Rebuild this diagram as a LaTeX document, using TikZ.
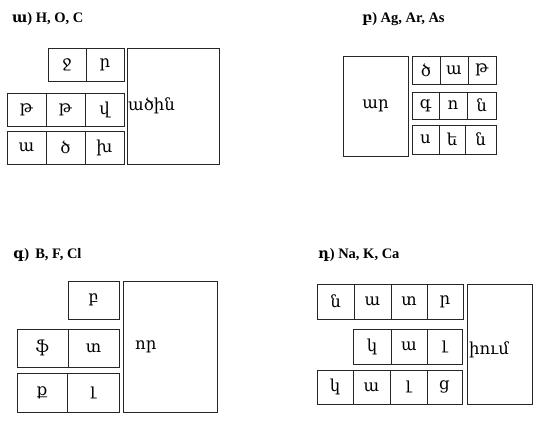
\documentclass[tikz,border=0pt]{standalone}
\usepackage{fontspec}
\setmainfont{Liberation Serif}
\newfontfamily\arm{DejaVu Serif}
\tikzset{
  cellst/.style={draw=black!85, line width=1pt, inner sep=0pt, outer sep=0pt, font=\arm\fontsize{16.5}{16.5}\selectfont},
  bigtext/.style={inner sep=0pt, anchor=west, font=\arm\fontsize{16.5}{16.5}\selectfont},
  head/.style={inner sep=0pt, anchor=base west, font=\bfseries\fontsize{14.5}{15}\selectfont}
}
\newcommand\cbox[6]{\node[cellst, minimum width={(#4-#2)*1pt}, minimum height={(#5-#3)*1pt}] (#1) at ({(#2+#4)/2},{(#3+#5)/2}) {\raisebox{-3pt}{#6}};}
\begin{document}
\begin{tikzpicture}[x=1pt,y=-1pt]
\useasboundingbox (0,0) rectangle (539,421);
% panel a
\node[head] (ha) at (12,22) {{\arm ա}) H, O, C};
\cbox{a11}{48}{48}{86}{81}{ջ}
\cbox{a12}{86}{48}{124}{81}{ր}
\cbox{a21}{7}{93}{46}{126}{թ}
\cbox{a22}{46}{93}{85}{126}{թ}
\cbox{a23}{85}{93}{124}{126}{վ}
\cbox{a31}{7}{131}{46}{164}{ա}
\cbox{a32}{46}{131}{85}{164}{ծ}
\cbox{a33}{85}{131}{124}{164}{խ}
\cbox{abig}{127}{48}{219}{164}{}
\node[bigtext] (atx) at (128,106) {ածին};
% panel b
\node[head] (hb) at (362,22) {{\arm բ}) Ag, Ar, As};
\cbox{bbig}{343}{56}{408}{156}{ար}
\cbox{b11}{412}{56}{440}{84}{ծ}
\cbox{b12}{440}{56}{468}{84}{ա}
\cbox{b13}{468}{56}{496}{84}{թ}
\cbox{b21}{412}{92}{439}{119}{գ}
\cbox{b22}{439}{92}{467}{119}{ո}
\cbox{b23}{467}{92}{496}{119}{ն}
\cbox{b31}{412}{125}{439}{154}{ս}
\cbox{b32}{439}{125}{465}{154}{ե}
\cbox{b33}{465}{125}{496}{154}{ն}
% panel c
\node[head] (hc) at (13,258) {{\arm գ})\, B, F, Cl};
\cbox{c11}{68}{281}{119}{319}{բ}
\cbox{c21}{17}{329}{68}{367}{ֆ}
\cbox{c22}{68}{329}{119}{367}{տ}
\cbox{c31}{17}{373}{67}{412}{ք}
\cbox{c32}{67}{373}{119}{412}{լ}
\cbox{cbig}{123}{281}{217}{412}{}
\node[bigtext] (ctx) at (135,347) {որ};
% panel d
\node[head] (hd) at (318,258) {{\arm դ}) Na, K, Ca};
\cbox{d11}{317}{284}{354}{319}{ն}
\cbox{d12}{354}{284}{391}{319}{ա}
\cbox{d13}{391}{284}{427}{319}{տ}
\cbox{d14}{427}{284}{463}{319}{ր}
\cbox{d21}{353}{329}{391}{364}{կ}
\cbox{d22}{391}{329}{427}{364}{ա}
\cbox{d23}{427}{329}{462}{364}{լ}
\cbox{d31}{317}{370}{353}{404}{կ}
\cbox{d32}{353}{370}{390}{404}{ա}
\cbox{d33}{390}{370}{427}{404}{լ}
\cbox{d34}{427}{370}{462}{404}{ց}
\cbox{dbig}{467}{284}{532}{404}{}
\node[bigtext] (dtx) at (469,350) {իում};
\end{tikzpicture}
\end{document}
